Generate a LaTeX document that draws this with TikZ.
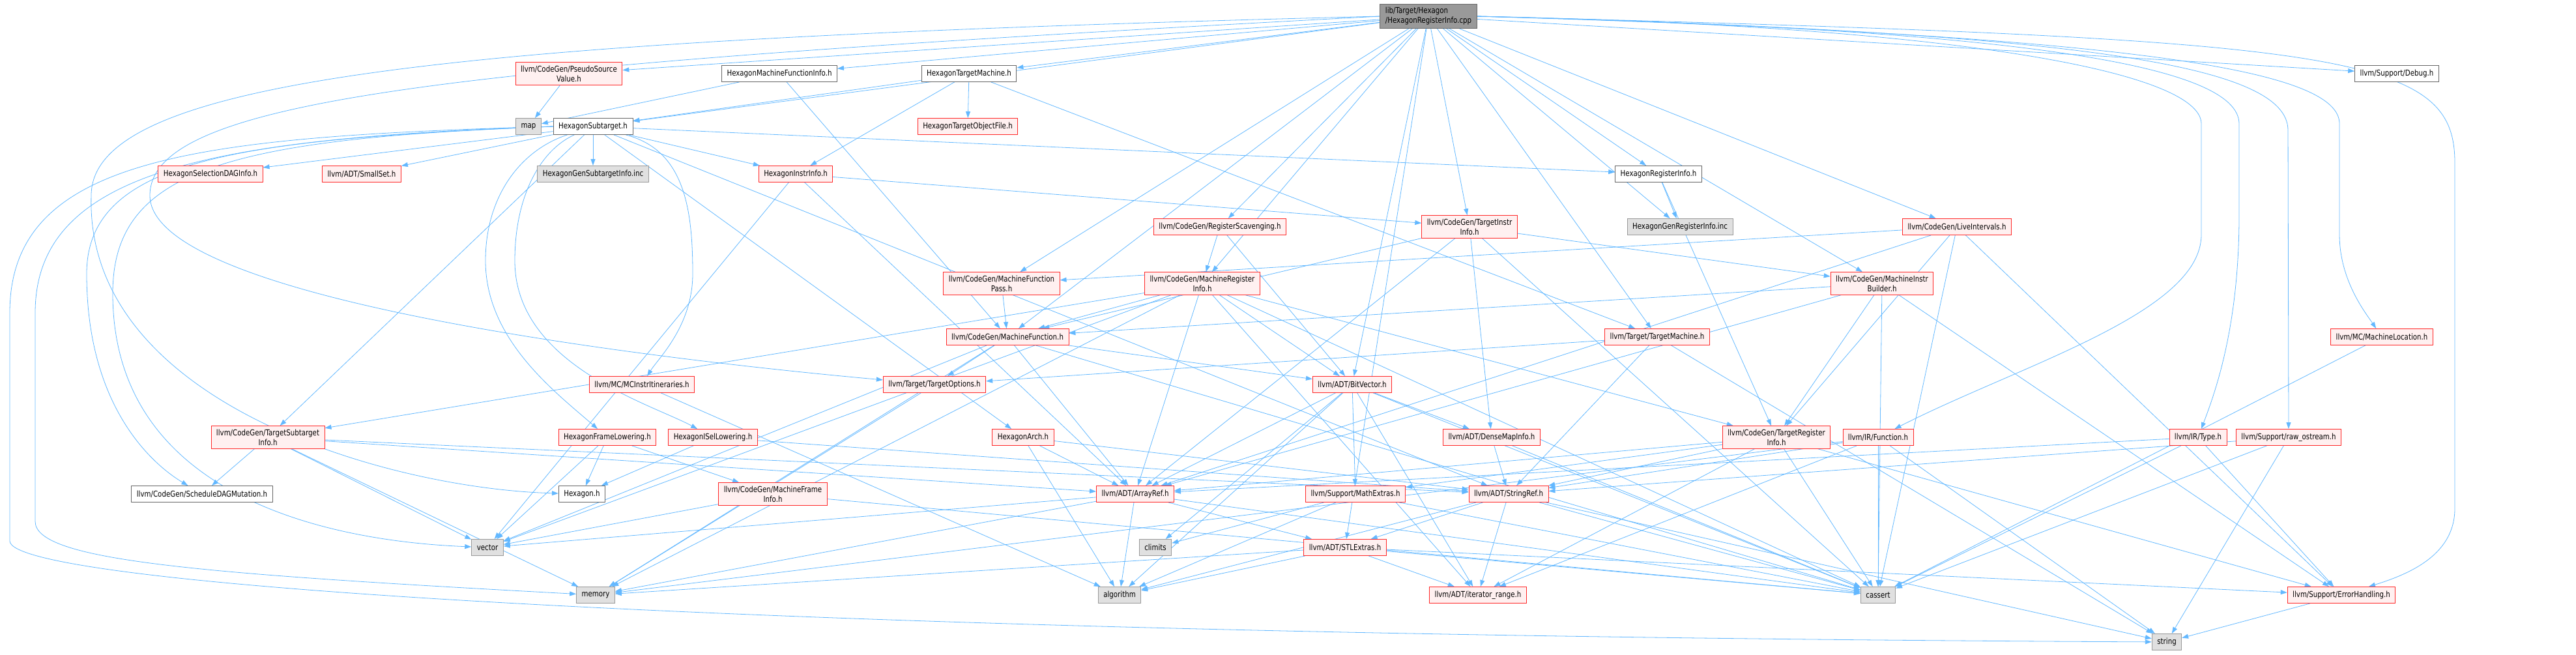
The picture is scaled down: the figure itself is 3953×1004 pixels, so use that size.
\documentclass[tikz,border=0pt]{standalone}
\usepackage{fontspec}
\setmainfont{DejaVu Sans}[FakeStretch=0.82]
\usetikzlibrary{arrows.meta,backgrounds}
\definecolor{edgeblue}{RGB}{99,184,255}
\definecolor{boxred}{RGB}{255,40,40}
\definecolor{boxpink}{RGB}{255,240,240}
\definecolor{boxgray}{RGB}{153,153,153}
\definecolor{boxlight}{RGB}{224,224,224}
\definecolor{boxdark}{RGB}{102,102,102}
\begin{document}
\begin{tikzpicture}[x=1pt,y=-1pt,>={Triangle[length=10pt,width=7pt]},
  every node/.style={font=\fontsize{12.5}{15}\selectfont,inner xsep=8pt,inner ysep=5pt,
    minimum height=25pt,align=center,line width=0.9pt},
  redbox/.style={draw=boxred,fill=boxpink},
  graybox/.style={draw=boxgray,fill=boxlight},
  whitebox/.style={draw=boxdark,fill=white},
  mainbox/.style={draw=boxdark,fill=boxgray,align=left},
  dep/.style={->,draw=edgeblue,line width=0.8pt}]
\useasboundingbox (0,0) rectangle (3953,1004);

\node[mainbox] (main) at (2192,25) {lib/Target/Hexagon\\/HexagonRegisterInfo.cpp};

\node[redbox] (pseudo) at (873,113) {llvm/CodeGen/PseudoSource\\Value.h};
\node[whitebox] (hmfi) at (1196,113) {HexagonMachineFunctionInfo.h};
\node[whitebox] (htm) at (1487,113) {HexagonTargetMachine.h};
\node[whitebox] (debug) at (3678,113) {llvm/Support/Debug.h};

\node[graybox] (map) at (811,194) {map};
\node[whitebox] (hst) at (910,194) {HexagonSubtarget.h};
\node[redbox] (htof) at (1485,194) {HexagonTargetObjectFile.h};

\node[redbox] (seldag) at (323,267) {HexagonSelectionDAGInfo.h};
\node[redbox] (smallset) at (555,267) {llvm/ADT/SmallSet.h};
\node[graybox] (gensub) at (910,267) {HexagonGenSubtargetInfo.inc};
\node[redbox] (hii) at (1221,267) {HexagonInstrInfo.h};
\node[whitebox] (hri) at (2545,267) {HexagonRegisterInfo.h};

\node[redbox] (regscav) at (1872,348) {llvm/CodeGen/RegisterScavenging.h};
\node[redbox] (tii) at (2255,348) {llvm/CodeGen/TargetInstr\\Info.h};
\node[graybox] (genreg) at (2578,348) {HexagonGenRegisterInfo.inc};
\node[redbox] (liveint) at (3003,348) {llvm/CodeGen/LiveIntervals.h};

\node[redbox] (mfp) at (1537,435) {llvm/CodeGen/MachineFunction\\Pass.h};
\node[redbox] (mri) at (1845,435) {llvm/CodeGen/MachineRegister\\Info.h};
\node[redbox] (mib) at (2888,435) {llvm/CodeGen/MachineInstr\\Builder.h};

\node[redbox] (mf) at (1546,517) {llvm/CodeGen/MachineFunction.h};
\node[redbox] (tm) at (2543,517) {llvm/Target/TargetMachine.h};
\node[redbox] (mloc) at (3655,517) {llvm/MC/MachineLocation.h};

\node[redbox] (mcii) at (985,590) {llvm/MC/MCInstrItineraries.h};
\node[redbox] (topt) at (1434,590) {llvm/Target/TargetOptions.h};
\node[redbox] (bv) at (2075,590) {llvm/ADT/BitVector.h};

\node[redbox] (tsi) at (411,671) {llvm/CodeGen/TargetSubtarget\\Info.h};
\node[redbox] (hfl) at (932,671) {HexagonFrameLowering.h};
\node[redbox] (hisel) at (1094,671) {HexagonISelLowering.h};
\node[redbox] (harch) at (1570,671) {HexagonArch.h};
\node[redbox] (dmi) at (2289,671) {llvm/ADT/DenseMapInfo.h};
\node[redbox] (tri) at (2726,671) {llvm/CodeGen/TargetRegister\\Info.h};
\node[redbox] (func) at (2882,671) {llvm/IR/Function.h};
\node[redbox] (type) at (3373,671) {llvm/IR/Type.h};
\node[redbox] (rawos) at (3512,671) {llvm/Support/raw\_ostream.h};

\node[whitebox] (sdm) at (310,758) {llvm/CodeGen/ScheduleDAGMutation.h};
\node[whitebox] (hexh) at (893,758) {Hexagon.h};
\node[redbox] (mfi) at (1186,758) {llvm/CodeGen/MachineFrame\\Info.h};
\node[redbox] (aref) at (1742,758) {llvm/ADT/ArrayRef.h};
\node[redbox] (mathx) at (2080,758) {llvm/Support/MathExtras.h};
\node[redbox] (sref) at (2315,758) {llvm/ADT/StringRef.h};

\node[graybox] (vector) at (748,840) {vector};
\node[graybox] (climits) at (1773,840) {climits};
\node[redbox] (stlx) at (2064,840) {llvm/ADT/STLExtras.h};

\node[graybox] (memory) at (914,913) {memory};
\node[graybox] (algorithm) at (1718,913) {algorithm};
\node[redbox] (itr) at (2268,913) {llvm/ADT/iterator\_range.h};
\node[graybox] (cassert) at (2882,913) {cassert};
\node[redbox] (errh) at (3593,913) {llvm/Support/ErrorHandling.h};

\node[graybox] (string) at (3325,985) {string};

\begin{pgfonlayer}{background}
\foreach \a/\b in {main/pseudo,main/hmfi,main/htm,main/hst,main/mfp,main/mri,main/regscav,
  main/tii,main/bv,main/stlx,main/mf,main/hri,main/genreg,main/tm,main/mib,main/liveint,
  main/debug,
  hst/seldag,hst/smallset,hst/gensub,hst/hii,hst/hri,hst/tsi,
  hst/harch,hst/sref,
  htm/hii,htm/hst,htm/htof,htm/tm,
  pseudo/map,hmfi/map,hmfi/mf,
  hii/tii,hii/aref,hii/vector,
  hri/genreg,hri/tri,
  regscav/mri,regscav/bv,
  tii/mib,tii/mf,tii/aref,tii/dmi,tii/cassert,
  liveint/mfp,liveint/tri,liveint/cassert,liveint/errh,liveint/aref,
  mfp/mf,
  mri/mf,mri/aref,mri/bv,mri/tri,mri/tsi,mri/itr,mri/cassert,mri/memory,mri/vector,
  mib/mf,mib/tri,mib/cassert,mib/errh,mib/aref,
  mf/topt,mf/aref,mf/bv,mf/cassert,mf/memory,mf/vector,
  tm/topt,tm/sref,tm/string,
  mloc/cassert,mcii/algorithm,topt/memory,
  bv/aref,bv/dmi,bv/mathx,bv/itr,bv/algorithm,bv/cassert,bv/climits,
  tsi/sdm,tsi/aref,tsi/sref,tsi/vector,tsi/memory,
  hfl/hexh,hfl/vector,hfl/mfi,
  hisel/hexh,hisel/sref,
  harch/aref,harch/algorithm,harch/sref,
  dmi/sref,dmi/cassert,
  tri/aref,tri/sref,tri/itr,tri/mathx,tri/errh,tri/cassert,
  func/cassert,func/sref,func/itr,func/memory,func/string,
  type/aref,type/errh,type/cassert,
  rawos/sref,rawos/cassert,rawos/string,
  mfi/vector,mfi/cassert,
  aref/algorithm,aref/stlx,aref/cassert,aref/memory,aref/vector,
  mathx/climits,mathx/cassert,mathx/algorithm,
  sref/itr,sref/cassert,sref/string,sref/algorithm,sref/stlx,
  stlx/itr,stlx/algorithm,stlx/cassert,stlx/memory,stlx/errh,
  errh/string}
  \draw[dep] (\a) -- (\b);

\draw[dep] (main.west) .. controls (700,60) and (140,120) .. (140,300) .. controls (130,620) and (600,750) .. (hexh);
\draw[dep] (main.west) .. controls (700,100) and (230,150) .. (230,300) .. controls (230,470) and (1100,560) .. (topt);
\draw[dep] (hst.west) .. controls (300,210) and (15,240) .. (15,480) -- (15,830) .. controls (15,900) and (1200,975) .. (string);
\draw[dep] (hst.west) .. controls (330,212) and (54,260) .. (54,480) -- (54,800) .. controls (54,860) and (300,880) .. (memory);
\draw[dep] (hst.west) .. controls (380,214) and (133,240) .. (133,420) .. controls (133,620) and (230,710) .. (sdm);
\draw[dep] (hst.west) .. controls (350,213) and (173,260) .. (173,450) .. controls (173,760) and (500,830) .. (vector);
\draw[dep] (hst) .. controls (1050,230) and (1063,320) .. (1063,420) .. controls (1063,500) and (1010,550) .. (mcii);
\draw[dep] (hst) .. controls (800,230) and (745,300) .. (745,400) .. controls (745,520) and (850,600) .. (hfl);
\draw[dep] (hst) .. controls (830,230) and (790,300) .. (790,400) .. controls (790,560) and (1000,620) .. (hisel);
\draw[dep] (main.east) .. controls (3000,40) and (3378,110) .. (3378,190) -- (3378,360) .. controls (3378,480) and (3100,560) .. (func);
\draw[dep] (main.east) .. controls (3100,45) and (3436,100) .. (3436,190) -- (3436,330) .. controls (3436,500) and (3400,600) .. (type);
\draw[dep] (main.east) .. controls (3200,50) and (3511,100) .. (3511,200) -- (rawos);
\draw[dep] (main.east) .. controls (3300,55) and (3590,110) .. (3590,190) -- (3590,360) .. controls (3590,430) and (3630,480) .. (mloc);
\draw[dep] (main.east) .. controls (3600,60) and (3767,80) .. (3767,250) -- (3767,780) .. controls (3767,850) and (3700,880) .. (errh);
\end{pgfonlayer}
\end{tikzpicture}
\end{document}
